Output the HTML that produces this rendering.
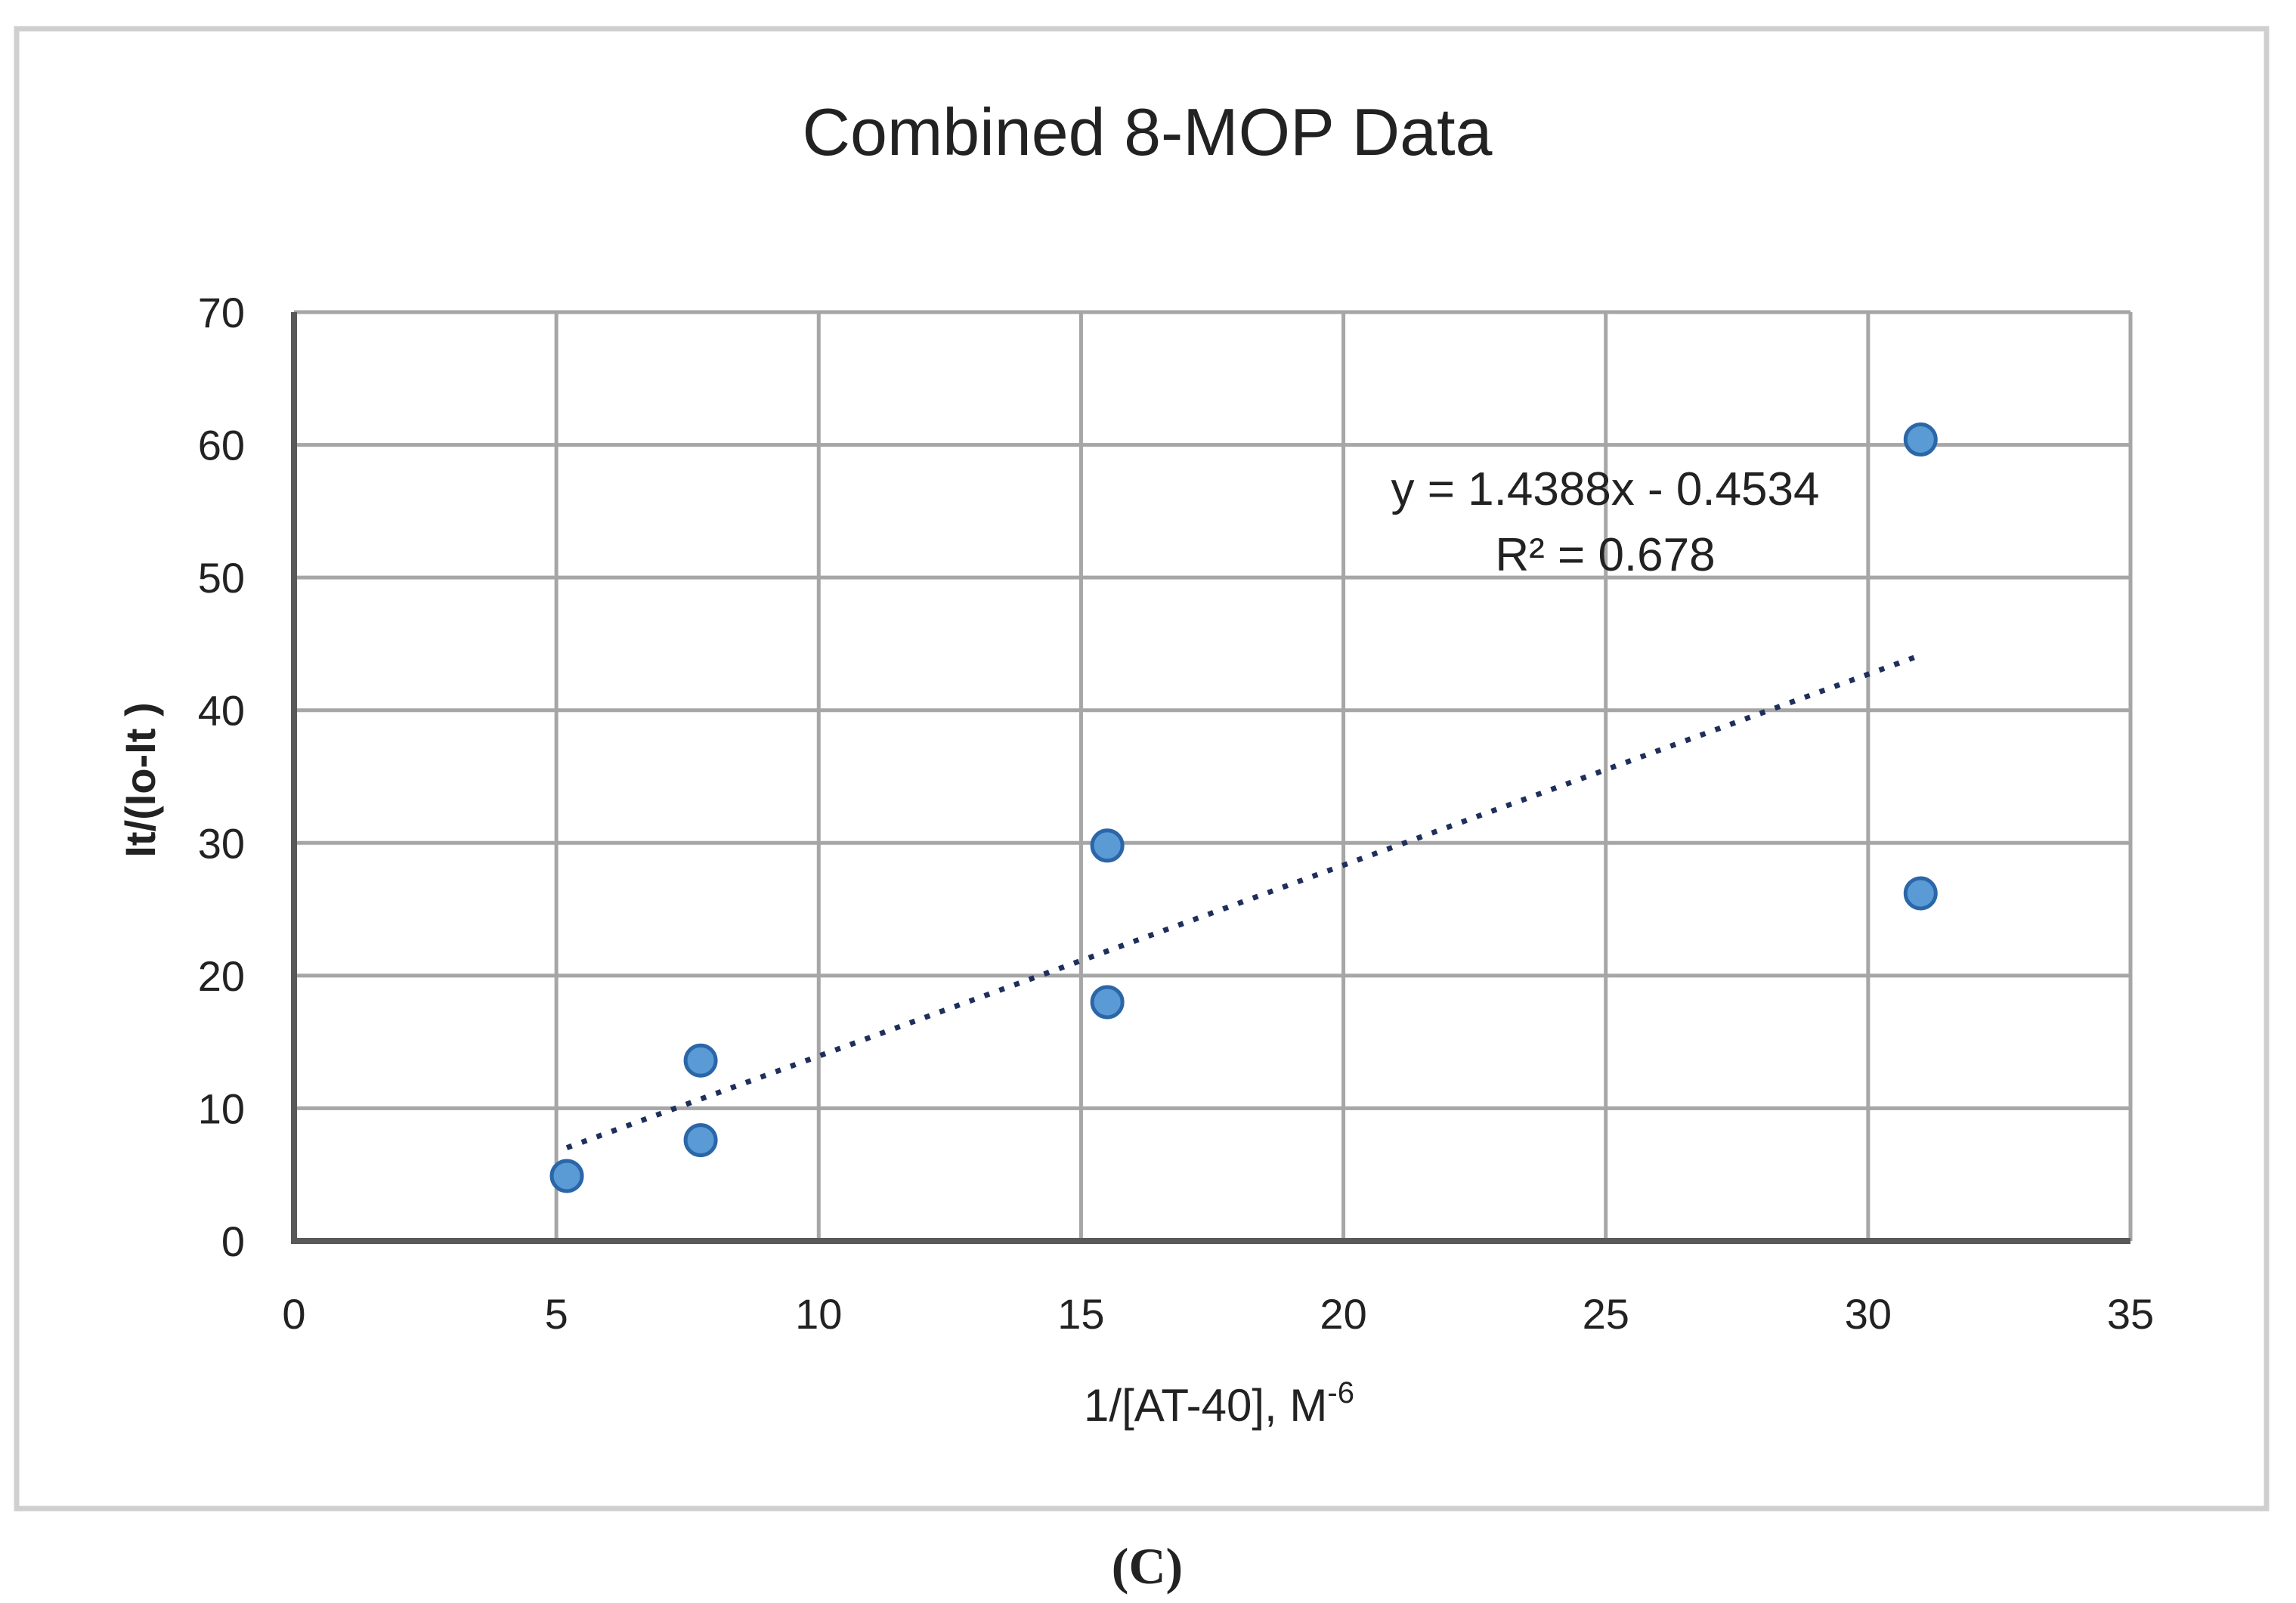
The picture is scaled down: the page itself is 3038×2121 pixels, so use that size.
<!DOCTYPE html>
<html><head><meta charset="utf-8"><style>
html,body{margin:0;padding:0;background:#fff;}
svg{display:block;}
text{font-family:"Liberation Sans",sans-serif;fill:#222;}
</style></head><body>
<svg id="chart" width="3038" height="2121" viewBox="0 0 3038 2121">
<rect x="22" y="38" width="2977" height="1958" fill="#fff" stroke="#cfcfcf" stroke-width="7"/>
<text x="1518" y="205" font-size="88" text-anchor="middle">Combined 8-MOP Data</text>
<g id="grid"></g>
<g id="axes"></g>
<g id="trend"></g>
<g id="points"></g>
<text x="2124" y="668" font-size="62" text-anchor="middle">y = 1.4388x - 0.4534</text>
<text x="2124" y="755" font-size="62" text-anchor="middle">R² = 0.678</text>
<text x="1613" y="1880" font-size="60" text-anchor="middle">1/[AT-40], M<tspan dy="-24" font-size="40">-6</tspan></text>
<text transform="translate(205,1032) rotate(-90)" font-size="56" font-weight="bold" text-anchor="middle">It/(Io-It )</text>
<text x="1518" y="2095" font-size="68" font-weight="bold" text-anchor="middle" style="font-family:'Liberation Serif',serif">(C)</text>
</svg>
<script>
const xTicks=[0,5,10,15,20,25,30,35];
const yTicks=[0,10,20,30,40,50,60,70];
const xValues=[5.2,7.75,7.75,15.5,15.5,31,31];
const yValues=[4.9,13.6,7.6,29.8,18,60.4,26.2];
const slope=[1.4388];
const intercept=[-0.4534];
const trendRange=[5.2,31];

const NS="http://www.w3.org/2000/svg";
const X0=389,X1=2819,Y0=1642,Y1=413;
function sx(v){return X0+(v-0)/(35-0)*(X1-X0);}
function sy(v){return Y0-(v-0)/(70-0)*(Y0-Y1);}
function mk(tag,attrs,parent){const e=document.createElementNS(NS,tag);for(const k in attrs)e.setAttribute(k,attrs[k]);parent.appendChild(e);return e;}
const grid=document.getElementById('grid'),axes=document.getElementById('axes'),trend=document.getElementById('trend'),pts=document.getElementById('points');
yTicks.forEach(t=>{
  if(t>0){const l=mk('line',{x1:X0,x2:X1,y1:sy(t),y2:sy(t),stroke:'#a6a6a6','stroke-width':5},grid);
  
  }
  const tx=mk('text',{x:X0-65,y:sy(t)+20,'font-size':56,'text-anchor':'end'},axes);
  tx.textContent=t;
  
  
});
xTicks.forEach(t=>{
  if(t>0){const l=mk('line',{x1:sx(t),x2:sx(t),y1:Y1,y2:Y0,stroke:'#a6a6a6','stroke-width':5},grid);
  
  }
  const tx=mk('text',{x:sx(t),y:1758,'font-size':56,'text-anchor':'middle'},axes);
  tx.textContent=t;
  
  
});
const ya=mk('line',{x1:X0,x2:X0,y1:Y1,y2:Y0+3,stroke:'#595959','stroke-width':8},axes);


const xa=mk('line',{x1:X0-4,x2:X1,y1:Y0,y2:Y0,stroke:'#595959','stroke-width':8},axes);


const tl=mk('line',{x1:sx(trendRange[0]),y1:sy(slope[0]*trendRange[0]+intercept[0]),x2:sx(trendRange[1]),y2:sy(slope[0]*trendRange[1]+intercept[0]),stroke:'#1f2f5c','stroke-width':7,'stroke-dasharray':'7 14'},trend);


xValues.forEach((x,i)=>{
  const c=mk('circle',{cx:sx(x),cy:sy(yValues[i]),r:20,fill:'#5b9bd5',stroke:'#2b66a8','stroke-width':5},pts);
  
  
});
</script>
</body></html>
